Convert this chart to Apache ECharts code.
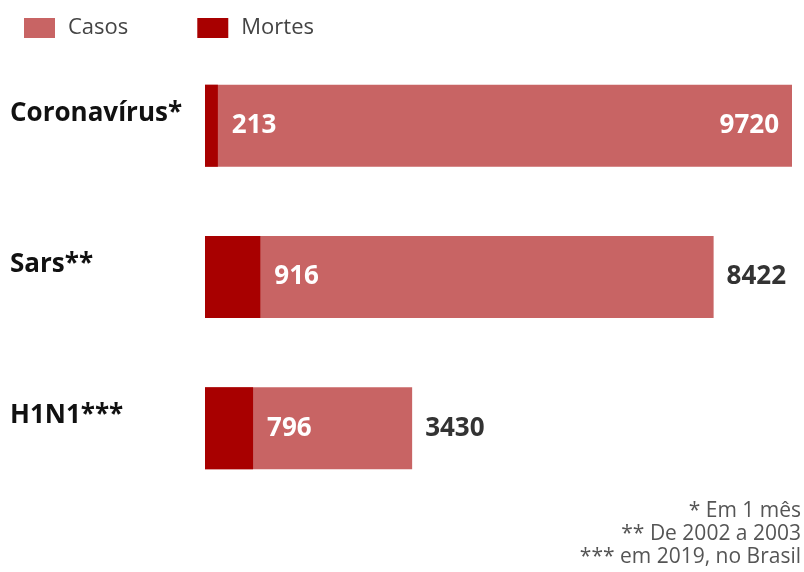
<!DOCTYPE html>
<html>
  <head>
    <meta charset="utf-8" />
    <title>Casos e mortes</title>
    <script src="https://cdn.jsdelivr.net/npm/echarts@6/dist/echarts.min.js"></script>
    <style>
      html, body { margin: 0; padding: 0; background: #fff; }
    </style>
  </head>
  <body>
    <div id="chart" style="width: 804px; height: 572px"></div>

    <script type="text/javascript">
// Data
const diseases = ['Coronavírus*', 'Sars**', 'H1N1***'];
const casos = [9720, 8422, 3430];
const mortes = [213, 916, 796];
const footnotes = ['* Em 1 mês', '** De 2002 a 2003', '*** em 2019, no Brasil'];

const font = "'Open Sans', 'Noto Sans', sans-serif";

const option = {
  animation: false,
  textStyle: { fontFamily: font },
  legend: {
    left: 19,
    top: 12,
    itemWidth: 31,
    itemHeight: 20,
    itemGap: 69,
    icon: 'rect',
    textStyle: { fontSize: 22, color: '#444', fontFamily: font, padding: [0, 0, 0, 8] },
    data: ['Casos', 'Mortes'],
  },
  grid: {
    left: 205,
    right: 12,
    top: 50,
    bottom: 68,
  },
  xAxis: {
    type: 'value',
    min: 0,
    max: 'dataMax',
    show: false,
  },
  yAxis: {
    type: 'category',
    inverse: true,
    data: diseases,
    axisLine: { show: false },
    axisTick: { show: false },
    axisLabel: {
      align: 'left',
      verticalAlign: 'bottom',
      lineHeight: 25,
      margin: 195,
      fontSize: 26,
      fontWeight: 'bold',
      color: '#111',
      fontFamily: font,
    },
  },
  series: [
    {
      name: 'Casos',
      type: 'bar',
      barWidth: 82,
      itemStyle: { color: '#c86464' },
      label: {
        show: true,
        fontSize: 26,
        fontWeight: 'bold',
        fontFamily: font,
      },
      data: casos.map((v, i) => ({
        value: v,
        label: i === 0
          ? { position: 'insideRight', distance: 13, color: '#fff' }
          : { position: 'right', distance: 13, color: '#333' },
      })),
    },
    {
      name: 'Mortes',
      type: 'bar',
      barWidth: 82,
      barGap: '-100%',
      itemStyle: { color: '#a80000' },
      label: {
        show: true,
        position: 'right',
        distance: 14,
        color: '#fff',
        fontSize: 26,
        fontWeight: 'bold',
        fontFamily: font,
      },
      data: mortes,
    },
  ],
  graphic: footnotes.map((t, i) => ({
    type: 'text',
    x: 801,
    y: 511 + i * 23,
    style: {
      text: t,
      fontSize: 21,
      fontFamily: font,
      fill: '#555',
      textAlign: 'right',
      textVerticalAlign: 'middle',
    },
  })),
};

const chart = echarts.init(document.getElementById('chart'));
chart.setOption(option);
    </script>
  </body>
</html>
